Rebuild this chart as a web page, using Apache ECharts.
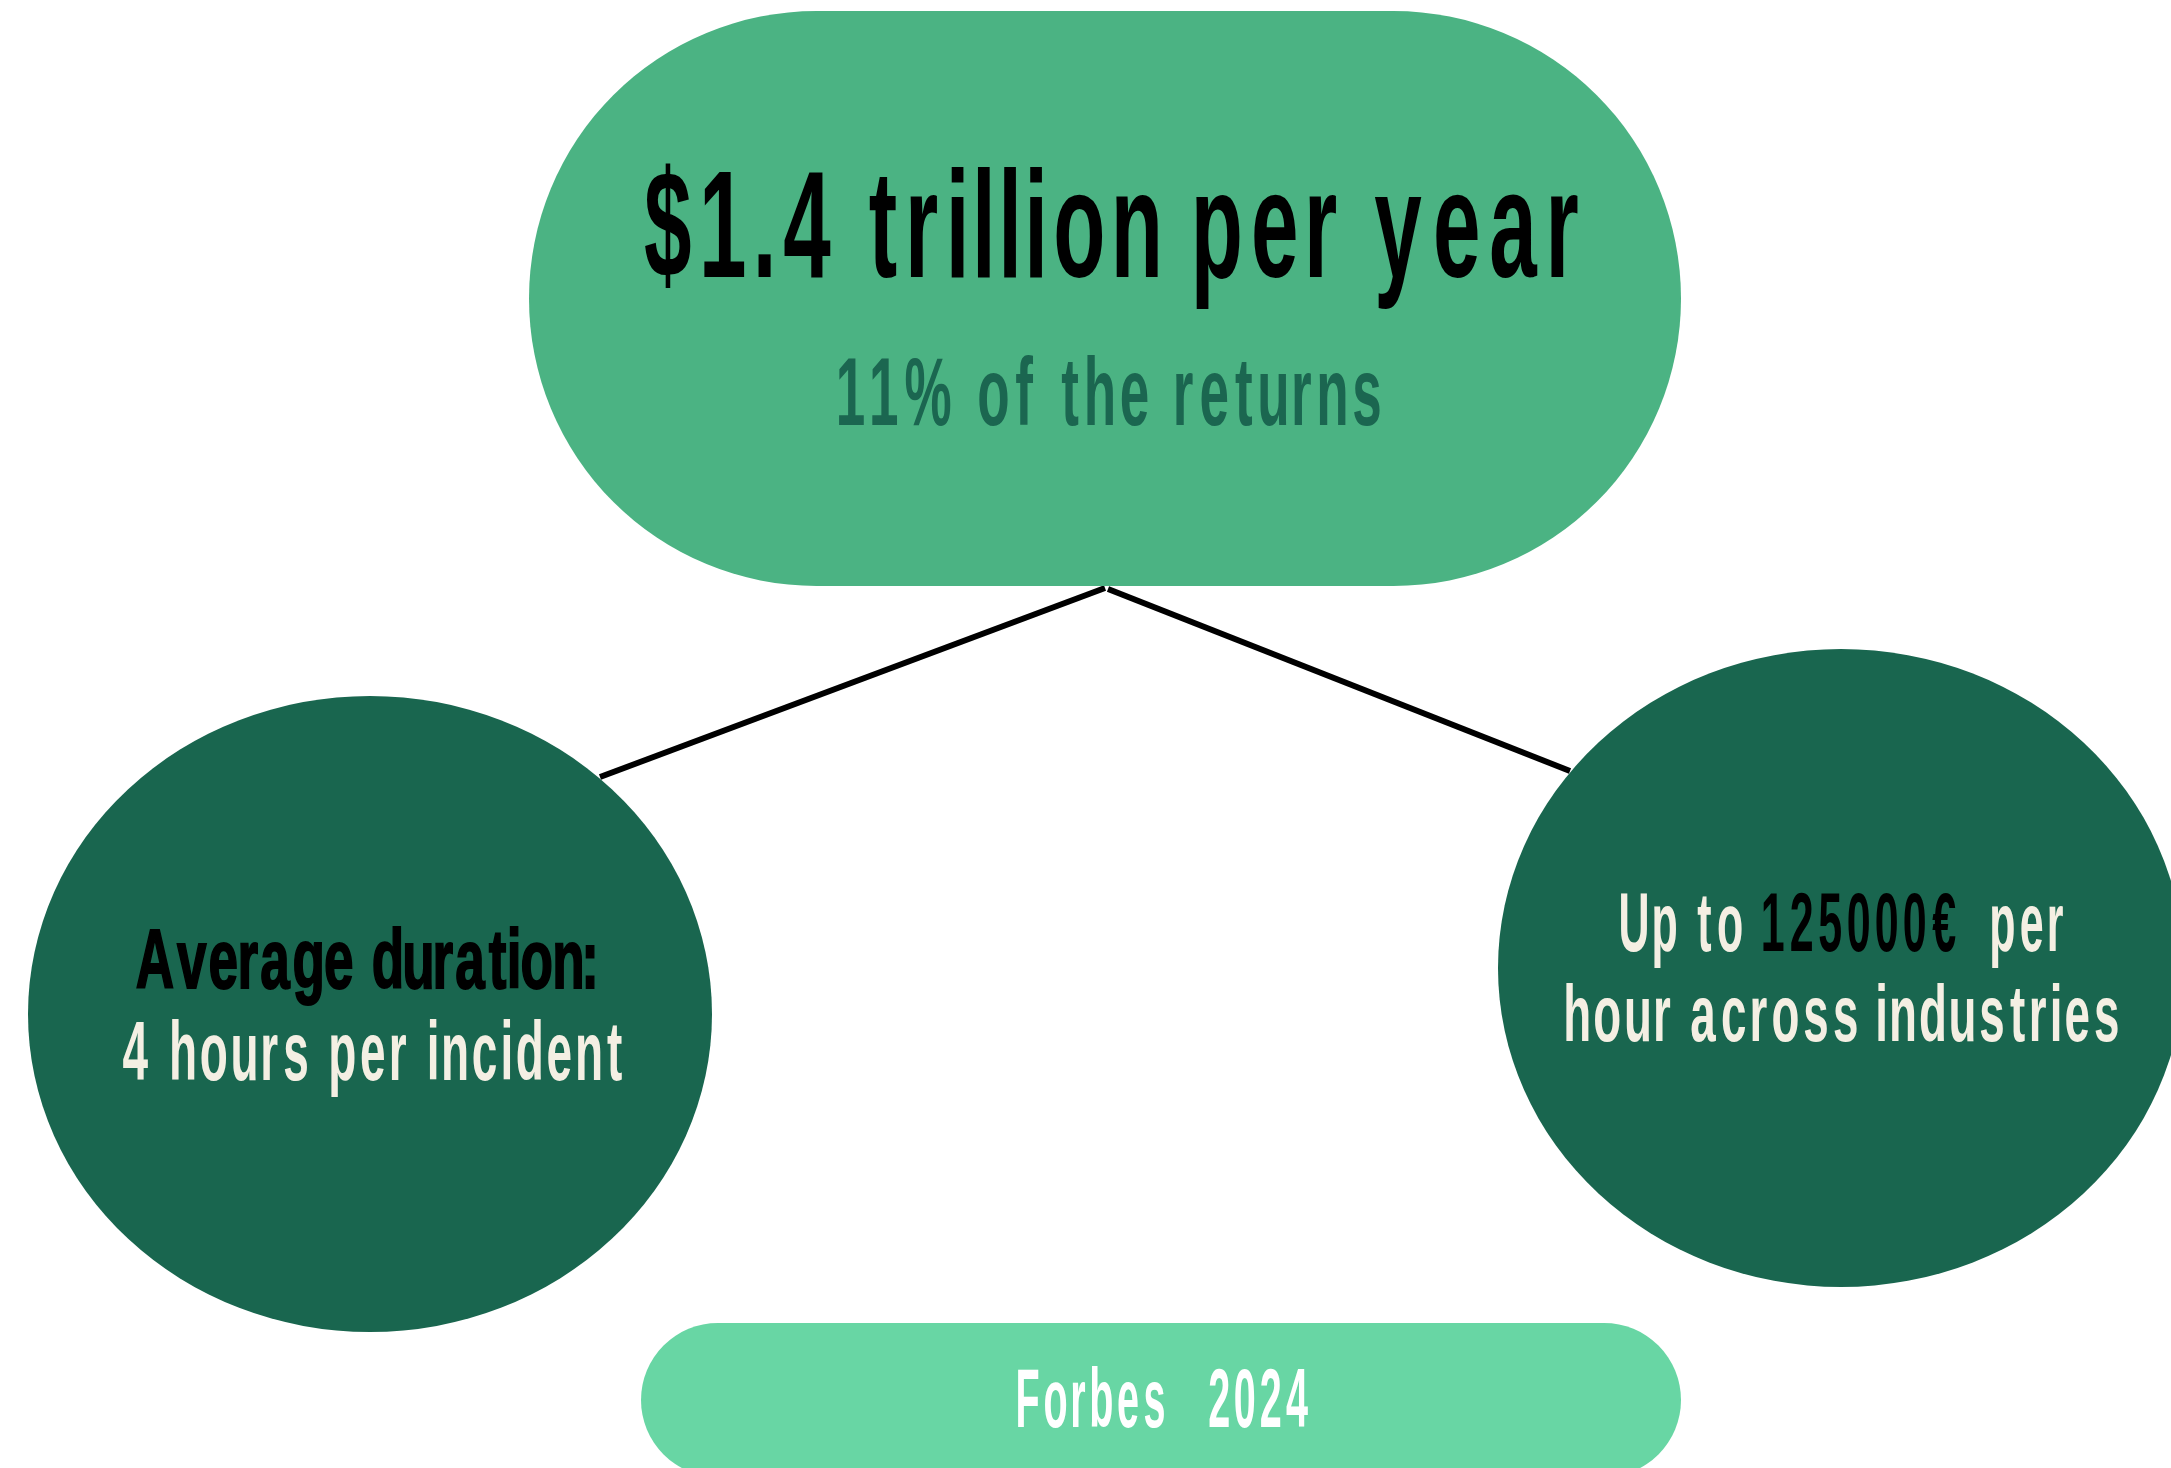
<!DOCTYPE html>
<html>
<head>
<meta charset="utf-8">
<script src="https://cdn.jsdelivr.net/npm/echarts@6/dist/echarts.min.js"></script>
<style>
  html, body { margin: 0; padding: 0; background: #ffffff; }
  #chart { width: 2171px; height: 1468px; }
</style>
</head>
<body>
<div id="chart"></div>
<script>
// Texts shown in the diagram
const headline = ['$1.4 trillion per year'];
const headlineNote = ['11% of the returns'];
const durationLines = ['Average duration:', '4 hours per incident'];
const costParts = ['Up to ', '125000€', '  per'];
const costLine2 = ['hour across industries'];
const sourceLabel = ['Forbes 2024'];

// Palette
const C = {
  mid: '#4bb383',
  dark: '#19664f',
  light: '#68d6a4',
  cream: '#f4efe3',
  noteText: '#1b6650',
  ink: '#000000',
  white: '#ffffff'
};

const FONT = '"Liberation Sans", Arial, sans-serif';
const ctx = document.createElement('canvas').getContext('2d');

// Lays out a line of tall condensed lettering glyph by glyph. Letters are
// separated by letterGap and words by wordGap (fractions of the cap height,
// measured ink to ink; each extra space adds a little more). The glyphs are then
// squeezed horizontally so the line runs from box.left to box.right with its
// caps between box.top and box.base.
function trackedLine(str, fills, opt, box) {
  const weight = opt.weight || 'bold';
  const probe = 100;
  ctx.font = weight + ' ' + probe + 'px ' + FONT;
  ctx.textBaseline = 'alphabetic';
  const capProbe = ctx.measureText('H').actualBoundingBoxAscent;
  const capH = box.base - box.top;
  const size = probe * capH / capProbe;
  ctx.font = weight + ' ' + size + 'px ' + FONT;
  ctx.textBaseline = 'middle';

  const chars = Array.from(str);
  const glyphs = [];
  let spaces = 0;
  chars.forEach(function (ch, i) {
    if (ch === ' ') { spaces++; return; }
    const m = ctx.measureText(ch);
    let gap = 0;
    if (glyphs.length) {
      gap = spaces ? opt.wordGap + (spaces - 1) * 0.25 : opt.letterGap;
    }
    glyphs.push({
      ch: ch,
      fill: Array.isArray(fills) ? fills[i] : fills,
      bbL: m.actualBoundingBoxLeft,
      bbR: m.actualBoundingBoxRight,
      gapBefore: gap * capH
    });
    spaces = 0;
  });
  let inkSum = 0, gapSum = 0;
  glyphs.forEach(function (gl) { inkSum += gl.bbL + gl.bbR; gapSum += gl.gapBefore; });
  const g = (box.right - box.left - gapSum) / inkSum;
  const y = box.base - ctx.measureText('H').actualBoundingBoxDescent;

  let cursor = box.left;
  return glyphs.map(function (gl) {
    cursor += gl.gapBefore;
    const x = cursor + gl.bbL * g;
    cursor += (gl.bbL + gl.bbR) * g;
    const style = {
      text: gl.ch, fill: gl.fill, fontSize: size, fontFamily: FONT, fontWeight: weight,
      align: 'left', verticalAlign: 'middle'
    };
    if (opt.thicken) {
      style.stroke = gl.fill;
      style.lineWidth = opt.thicken;
    }
    return { type: 'text', z: 10, x: x, y: y, scaleX: g, style: style };
  });
}

function blob(cx, cy, rx, ry, fill) {
  return {
    type: 'circle', x: cx, y: cy, scaleY: ry / rx, z: 5,
    shape: { cx: 0, cy: 0, r: rx },
    style: { fill: fill }
  };
}

function pill(x, y, w, h, fill) {
  return {
    type: 'rect', z: 5,
    shape: { x: x, y: y, width: w, height: h, r: h / 2 },
    style: { fill: fill }
  };
}

function connector(x1, y1, x2, y2) {
  return {
    type: 'line', z: 2,
    shape: { x1: x1, y1: y1, x2: x2, y2: y2 },
    style: { stroke: C.ink, lineWidth: 6 }
  };
}

// Per-character colours for the mixed line in the right bubble
const costText = costParts.join('');
const costFills = [];
[C.cream, C.ink, C.cream].forEach(function (col, i) {
  Array.from(costParts[i]).forEach(function () { costFills.push(col); });
});

const chart = echarts.init(document.getElementById('chart'), null, { renderer: 'canvas' });

const elements = [
  connector(600, 777, 1105, 588),
  connector(1108, 589, 1570, 771),
  pill(529, 11, 1152, 575, C.mid),
  blob(370, 1014, 342, 318, C.dark),
  blob(1841, 968, 343, 319, C.dark),
  pill(641, 1323, 1040, 154, C.light)
].concat(
  trackedLine(headline[0], C.ink, { letterGap: 0.13, wordGap: 0.36 },
    { left: 645, right: 1578, top: 170, base: 277 }),
  trackedLine(headlineNote[0], C.noteText, { letterGap: 0.12, wordGap: 0.42 },
    { left: 839, right: 1380, top: 357, base: 425 }),
  trackedLine(durationLines[0], C.ink, { letterGap: 0.07, wordGap: 0.37, thicken: 2 },
    { left: 137, right: 594, top: 930, base: 988 }),
  trackedLine(durationLines[1], C.cream, { letterGap: 0.12, wordGap: 0.41 },
    { left: 123, right: 622, top: 1022, base: 1080 }),
  trackedLine(costText, costFills, { letterGap: 0.12, wordGap: 0.36 },
    { left: 1621, right: 2063, top: 892, base: 951 }),
  trackedLine(costLine2[0], C.cream, { letterGap: 0.12, wordGap: 0.38 },
    { left: 1566, right: 2118, top: 985, base: 1041 }),
  trackedLine(sourceLabel[0], C.white, { letterGap: 0.11, wordGap: 0.78 },
    { left: 1018, right: 1308, top: 1369, base: 1427 })
);

chart.setOption({
  backgroundColor: '#ffffff',
  animation: false,
  graphic: { elements: elements }
});
</script>
</body>
</html>
